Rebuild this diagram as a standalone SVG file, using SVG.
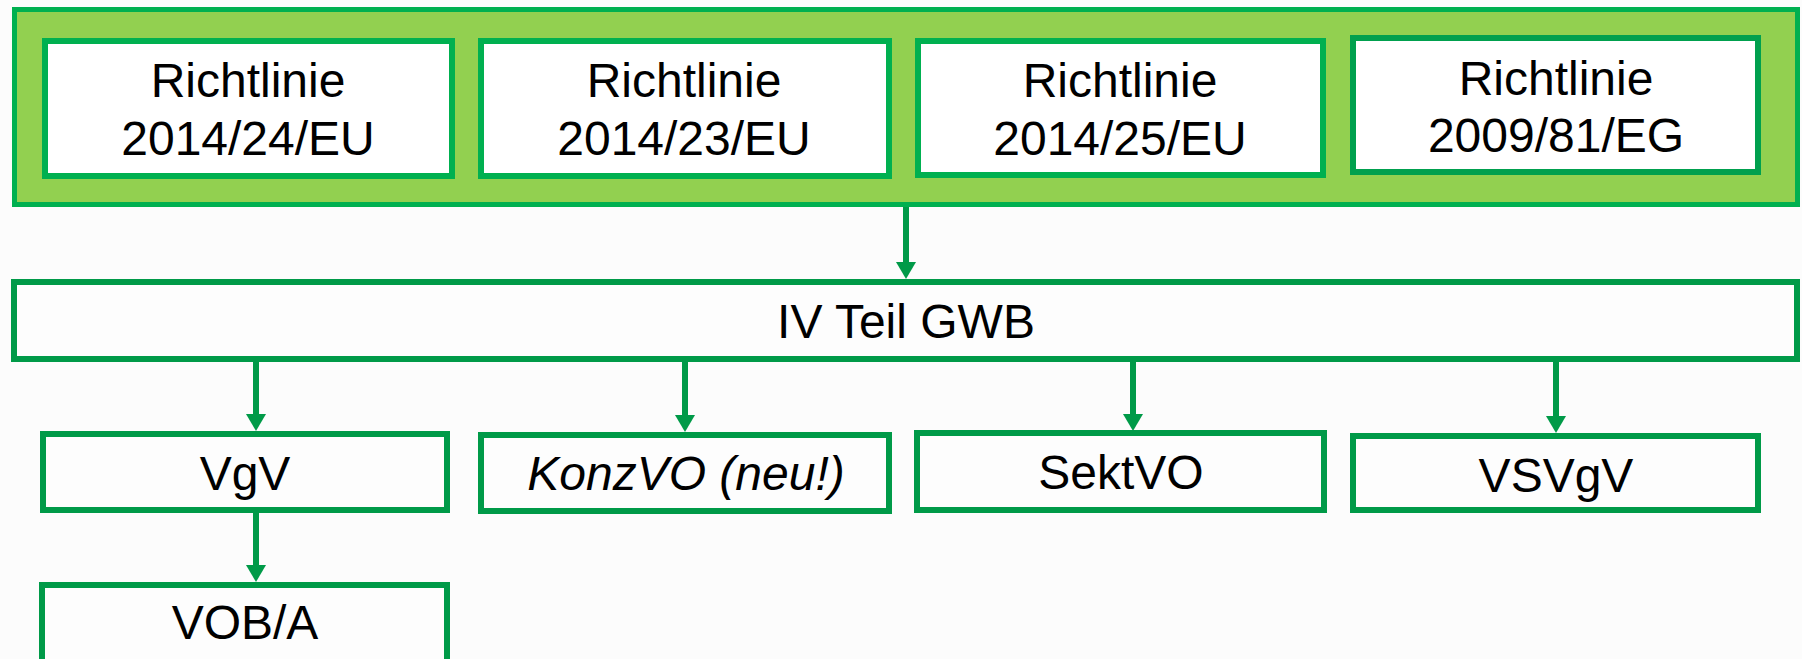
<svg xmlns="http://www.w3.org/2000/svg" width="1802" height="659" viewBox="0 0 1802 659">
<style>
.t{font-family:"Liberation Sans",Arial,sans-serif;font-size:48px;fill:#000;text-anchor:middle}
.it{font-style:italic}
.dir{fill:#fff;stroke:#00B050;stroke-width:6}
.dir4{fill:#fff;stroke:#00A04E;stroke-width:6}
.box{fill:#FDFDFD;stroke:#009A48;stroke-width:6}
.con{stroke:#009A48;stroke-width:6;fill:none}
</style>
<defs>
<marker id="ah" markerUnits="userSpaceOnUse" markerWidth="17" markerHeight="20" viewBox="0 -10 17 20" refX="0" refY="0" orient="auto" overflow="visible">
<path d="M0,-10 L17,0 L0,10 z" fill="#009A48"/>
</marker>
</defs>
<rect width="1802" height="659" fill="#FCFCFC"/>
<g id="eu-richtlinien">
<rect x="14.5" y="9.5" width="1783" height="195" fill="#92D050" stroke="#00B050" stroke-width="5"/>
</g>
<g id="rl-2014-24">
<rect class="dir" x="45" y="41" width="407" height="135"/>
<text class="t" x="248" y="97">Richtlinie</text>
<text class="t" x="248" y="155">2014/24/EU</text>
</g>
<g id="rl-2014-23">
<rect class="dir" x="481" y="41" width="408" height="135"/>
<text class="t" x="684" y="97">Richtlinie</text>
<text class="t" x="684" y="155">2014/23/EU</text>
</g>
<g id="rl-2014-25">
<rect class="dir" x="918" y="41" width="405" height="134"/>
<text class="t" x="1120" y="97">Richtlinie</text>
<text class="t" x="1120" y="155">2014/25/EU</text>
</g>
<g id="rl-2009-81">
<rect class="dir4" x="1353" y="38" width="405" height="134"/>
<text class="t" x="1556" y="95">Richtlinie</text>
<text class="t" x="1556" y="152">2009/81/EG</text>
</g>
<g id="gwb">
<rect class="box" x="14" y="282" width="1783" height="77"/>
<text class="t" x="906" y="338">IV Teil GWB</text>
</g>
<g id="vgv">
<rect class="box" x="43" y="434" width="404" height="76"/>
<text class="t" x="245" y="490">VgV</text>
</g>
<g id="konzvo">
<rect class="box" x="481" y="435" width="408" height="76"/>
<text class="t it" x="686" y="490">KonzVO (neu!)</text>
</g>
<g id="sektvo">
<rect class="box" x="917" y="433" width="407" height="77"/>
<text class="t" x="1121" y="489">SektVO</text>
</g>
<g id="vsvgv">
<rect class="box" x="1353" y="436" width="405" height="74"/>
<text class="t" x="1556" y="492">VSVgV</text>
</g>
<g id="voba">
<rect class="box" x="42" y="585" width="405" height="90"/>
<text class="t" x="245" y="639">VOB/A</text>
</g>
<g id="connectors">
<line class="con" x1="906" y1="207" x2="906" y2="262" marker-end="url(#ah)"/>
<line class="con" x1="256" y1="362" x2="256" y2="414" marker-end="url(#ah)"/>
<line class="con" x1="685" y1="362" x2="685" y2="415" marker-end="url(#ah)"/>
<line class="con" x1="1133" y1="362" x2="1133" y2="414" marker-end="url(#ah)"/>
<line class="con" x1="1556" y1="362" x2="1556" y2="416" marker-end="url(#ah)"/>
<line class="con" x1="256" y1="513" x2="256" y2="565" marker-end="url(#ah)"/>
</g>
</svg>
